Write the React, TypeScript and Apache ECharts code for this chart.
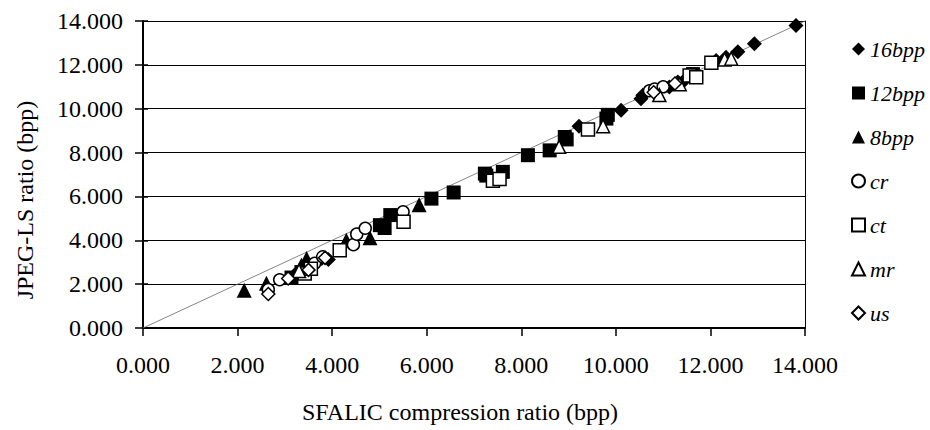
import React, { useEffect, useRef } from "react";
import * as echarts from "echarts";

const seriesNames = ["16bpp", "12bpp", "8bpp", "cr", "ct", "mr", "us"];

const bpp16 = [
  [3.2, 2.4], [3.78, 3.17], [3.92, 3.12], [9.22, 9.2], [10.11, 9.93],
  [10.53, 10.46], [10.57, 10.61], [11.13, 10.99], [11.31, 11.22], [11.45, 11.3],
  [12.12, 12.2], [12.33, 12.35], [12.58, 12.6], [12.93, 12.96], [13.81, 13.8],
];
const bpp12 = [
  [3.14, 2.3], [3.35, 2.55], [5.01, 4.69], [5.11, 4.56], [5.23, 5.15],
  [6.1, 5.9], [6.57, 6.18], [7.23, 7.04], [7.26, 6.95], [7.61, 7.12],
  [8.14, 7.88], [8.6, 8.1], [8.92, 8.71], [8.96, 8.6], [9.8, 9.55],
  [9.83, 9.72], [11.63, 11.58],
];
const bpp8 = [
  [2.14, 1.72], [2.61, 2.04], [3.35, 2.87], [3.46, 3.17], [4.3, 4.0],
  [4.8, 4.12], [5.84, 5.62],
];
const cr = [
  [2.65, 1.75], [2.89, 2.2], [3.63, 2.95], [3.8, 3.25], [4.45, 3.8],
  [4.52, 4.28], [4.7, 4.55], [5.5, 5.3], [10.71, 10.82], [10.82, 10.9],
  [11.0, 11.0],
];
const ct = [
  [3.42, 2.49], [3.55, 2.7], [4.16, 3.55], [5.51, 4.84], [7.4, 6.72],
  [7.54, 6.8], [9.41, 9.05], [11.56, 11.52], [11.7, 11.44], [12.02, 12.1],
];
const mr = [
  [3.3, 2.6], [8.8, 8.26], [9.73, 9.2], [10.92, 10.62], [11.35, 11.12],
  [12.3, 12.25], [12.44, 12.28],
];
const us = [
  [2.65, 1.55], [3.07, 2.26], [3.5, 2.65], [3.85, 3.2], [10.8, 10.75],
  [11.25, 11.15],
];
const diagonal = [[0, 0], [14, 14]];

const xTitle = "SFALIC compression ratio (bpp)";
const yTitle = "JPEG-LS ratio (bpp)";

const FONT = "Liberation Serif";

export default function App() {
  const ref = useRef<HTMLDivElement>(null);
  useEffect(() => {
    if (!ref.current) return;
    const chart = echarts.init(ref.current, null, { renderer: "svg" });
    const filled = { color: "#000", opacity: 1 };
    const hollow = { color: "#fff", borderColor: "#000", borderWidth: 1.5, opacity: 1 };
    const mk = (name: string, data: number[][], symbol: string, size: number, style: any) => ({
      name,
      type: "scatter",
      data,
      symbol,
      symbolSize: size,
      itemStyle: style,
      z: 3,
    });
    chart.setOption({
      animation: false,
      backgroundColor: "#fff",
      grid: { left: 143, right: 125, top: 21, bottom: 102, outerBoundsMode: "none" },
      xAxis: {
        type: "value",
        min: 0,
        max: 14,
        interval: 2,
        axisLine: { show: true, onZero: false, lineStyle: { color: "#000", width: 2 } },
        axisTick: { show: true, length: 8, lineStyle: { color: "#000", width: 1.5 } },
        axisLabel: {
          margin: 25,
          fontFamily: FONT,
          fontSize: 24,
          color: "#000",
          formatter: (v: number) => v.toFixed(3),
        },
        splitLine: { show: false },
      },
      yAxis: [
        {
          type: "value",
          min: 0,
          max: 14,
          interval: 2,
          axisLine: { show: true, onZero: false, lineStyle: { color: "#000", width: 2 } },
          axisTick: { show: true, length: 8, lineStyle: { color: "#000", width: 1.5 } },
          axisLabel: {
            margin: 20,
            fontFamily: FONT,
            fontSize: 24,
            color: "#000",
            formatter: (v: number) => v.toFixed(3),
          },
          splitLine: { show: true, lineStyle: { color: "#000", width: 1 } },
        },
        {
          type: "value",
          position: "right",
          min: 0,
          max: 14,
          interval: 2,
          axisLine: { show: true, onZero: false, lineStyle: { color: "#000", width: 1 } },
          axisTick: { show: false },
          axisLabel: { show: false },
          splitLine: { show: false },
        },
        {
          type: "value",
          position: "left",
          min: 0,
          max: 14,
          interval: 2,
          axisLine: { show: false },
          axisTick: { show: true, inside: true, length: 5, lineStyle: { color: "#000", width: 1.5 } },
          axisLabel: { show: false },
          splitLine: { show: false },
        },
      ],
      legend: {
        orient: "vertical",
        left: 846,
        top: 33,
        itemGap: 22,
        itemWidth: 13,
        itemHeight: 13,
        data: seriesNames,
        textStyle: {
          fontFamily: FONT,
          fontStyle: "italic",
          fontSize: 22,
          lineHeight: 22,
          color: "#000",
        },
      },
      graphic: [
        {
          type: "text",
          x: 460,
          y: 412,
          style: {
            text: xTitle,
            fontFamily: FONT,
            fontSize: 24,
            fill: "#000",
            align: "center",
            verticalAlign: "middle",
          },
        },
        {
          type: "text",
          x: 25,
          y: 200,
          rotation: Math.PI / 2,
          style: {
            text: yTitle,
            fontFamily: FONT,
            fontSize: 24,
            fill: "#000",
            align: "center",
            verticalAlign: "middle",
          },
        },
      ],
      series: [
        {
          name: "diagonal",
          type: "line",
          data: diagonal,
          symbol: "none",
          silent: true,
          lineStyle: { color: "#666", width: 0.8 },
          z: 1,
        },
        mk("16bpp", bpp16, "diamond", 15, filled),
        mk("12bpp", bpp12, "rect", 14, filled),
        mk("8bpp", bpp8, "triangle", 15, filled),
        mk("cr", cr, "circle", 12, hollow),
        mk("ct", ct, "rect", 13, hollow),
        mk("mr", mr, "triangle", 13, hollow),
        mk("us", us, "diamond", 13, hollow),
      ],
    });
    return () => chart.dispose();
  }, []);
  return (
    <div
      ref={ref}
      style={{ position: "absolute", left: 0, top: 0, width: 930, height: 430 }}
    />
  );
}
